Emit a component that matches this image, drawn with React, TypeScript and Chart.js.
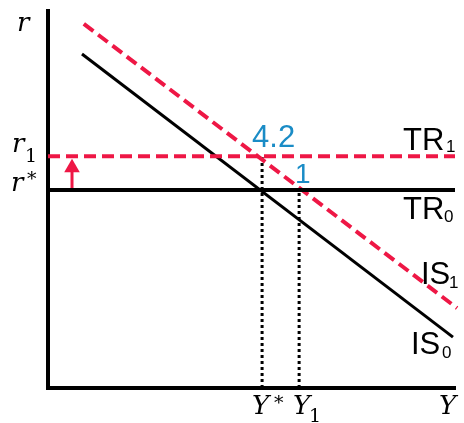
import React, { useEffect, useRef } from "react";
import { Chart, registerables } from "chart.js";

Chart.register(...registerables);

// ---- data (conceptual units, 0..100 on both axes) ----
const rStar = 52.5;
const r1 = 61.5;
const yStar = 52.6;
const y1 = 61.7;
const trX = [0, 100];
const is0X = [8.35, 99.5];
const is0Y = [88.6, 13.5];
const is1X = [8.8, 100.5];
const is1Y = [96.6, 21.2];
const arrowX = 5.9;
const arrowTop = 58.4;
const curveLabels = ["TR", "TR", "IS", "IS"];
const curveSubs = ["1", "0", "1", "0"];
const axisLabels = ["r", "Y"];
const shiftLabels = ["4.2", "1"];

const RED = "#ee1745";
const BLUE = "#1a8cc6";
const SANS = "'Liberation Sans', Arial, sans-serif";
const SERIF = "'DejaVu Serif', serif";

function drawText(ctx: CanvasRenderingContext2D, t: string, x: number, y: number, font: string, color: string, baseline: CanvasTextBaseline = "alphabetic") {
  ctx.font = font;
  ctx.fillStyle = color;
  ctx.textBaseline = baseline;
  ctx.textAlign = "left";
  ctx.fillText(t, x, y);
}

const labelPlugin = {
  id: "labels",
  afterDraw(chart: any) {
    const ctx = chart.ctx as CanvasRenderingContext2D;
    const xs = chart.scales.x;
    const ys = chart.scales.y;
    ctx.save();
    const mathBig = `italic 26px ${SERIF}`;
    const mathSub = `19px ${SERIF}`;
    const sansBig = `31px ${SANS}`;
    const sansSub = `17px ${SANS}`;
    // axis labels
    drawText(ctx, axisLabels[0], 17, 31, mathBig, "#000");
    const pr1 = ys.getPixelForValue(r1);
    const prs = ys.getPixelForValue(rStar);
    drawText(ctx, axisLabels[0], 12, pr1 - 4, mathBig, "#000");
    drawText(ctx, "1", 25, pr1 + 6, mathSub, "#000");
    drawText(ctx, axisLabels[0], 11, prs + 1, mathBig, "#000");
    drawText(ctx, "*", 27, prs - 20, mathSub, "#000", "top");
    const pys = xs.getPixelForValue(yStar);
    const py1 = xs.getPixelForValue(y1);
    const pxEnd = xs.getPixelForValue(100);
    drawText(ctx, axisLabels[1], pys - 10, 414, mathBig, "#000");
    drawText(ctx, "*", pys + 12, 395, mathSub, "#000", "top");
    drawText(ctx, axisLabels[1], py1 - 6, 414, mathBig, "#000");
    drawText(ctx, "1", py1 + 10, 422, mathSub, "#000");
    drawText(ctx, axisLabels[1], pxEnd - 16, 414, mathBig, "#000");
    // curve labels
    drawText(ctx, curveLabels[0], 403, pr1 - 6, sansBig, "#000");
    drawText(ctx, curveSubs[0], 446, pr1 - 4, sansSub, "#000");
    drawText(ctx, curveLabels[1], 403, prs + 29, sansBig, "#000");
    drawText(ctx, curveSubs[1], 444, prs + 32, sansSub, "#000");
    drawText(ctx, curveLabels[2], 421, 284, sansBig, "#000");
    drawText(ctx, curveSubs[2], 449, 288, sansSub, "#000");
    drawText(ctx, curveLabels[3], 411, 354, sansBig, "#000");
    drawText(ctx, curveSubs[3], 442, 358, sansSub, "#000");
    // shift labels
    drawText(ctx, shiftLabels[0], pys - 10, pr1 - 9, `31px ${SANS}`, BLUE);
    drawText(ctx, shiftLabels[1], py1 - 4, prs - 7, `28px ${SANS}`, BLUE);
    ctx.restore();
  },
};

export default function App() {
  const ref = useRef<HTMLCanvasElement | null>(null);
  useEffect(() => {
    if (!ref.current) return;
    const line = (pts: { x: number; y: number }[], color: string, width: number, dash: number[] = []) => ({
      data: pts,
      showLine: true,
      borderColor: color,
      backgroundColor: color,
      borderWidth: width,
      borderDash: dash,
      pointRadius: 0,
      clip: false as any,
    });
    const chart = new Chart(ref.current, {
      type: "scatter",
      data: {
        datasets: [
          line([{ x: trX[0], y: rStar }, { x: trX[1], y: rStar }], "#000", 4),
          line([{ x: trX[0], y: r1 }, { x: trX[1], y: r1 }], RED, 4, [12, 6]),
          line([{ x: is0X[0], y: is0Y[0] }, { x: is0X[1], y: is0Y[1] }], "#000", 3),
          line([{ x: is1X[0], y: is1Y[0] }, { x: is1X[1], y: is1Y[1] }], RED, 4, [12, 6]),
          line([{ x: yStar, y: 0 }, { x: yStar, y: r1 }], "#000", 3, [3, 3]),
          line([{ x: y1, y: 0 }, { x: y1, y: rStar }], "#000", 3, [3, 3]),
          {
            ...line([{ x: arrowX, y: rStar }, { x: arrowX, y: arrowTop }], RED, 3),
            pointRadius: [0, 9],
            pointStyle: "triangle",
            pointBorderWidth: 0,
            pointBackgroundColor: RED,
          } as any,
        ],
      },
      options: {
        responsive: false,
        animation: false,
        layout: { padding: { left: 48, top: 11, right: 9, bottom: 35 } },
        plugins: { legend: { display: false }, tooltip: { enabled: false } },
        scales: {
          x: {
            type: "linear",
            min: 0,
            max: 100,
            ticks: { display: false },
            grid: { display: false },
            border: { display: true, color: "#000", width: 4 },
            afterFit: (s: any) => { s.height = 0; },
          },
          y: {
            type: "linear",
            min: 0,
            max: 100,
            ticks: { display: false },
            grid: { display: false },
            border: { display: true, color: "#000", width: 4 },
            afterFit: (s: any) => { s.width = 0; },
          },
        },
      },
      plugins: [labelPlugin],
    });
    return () => chart.destroy();
  }, []);
  return (
    <div style={{ position: "absolute", left: 0, top: 0, width: 464, height: 423, background: "#fff" }}>
      <canvas ref={ref} width={464} height={423} />
    </div>
  );
}
